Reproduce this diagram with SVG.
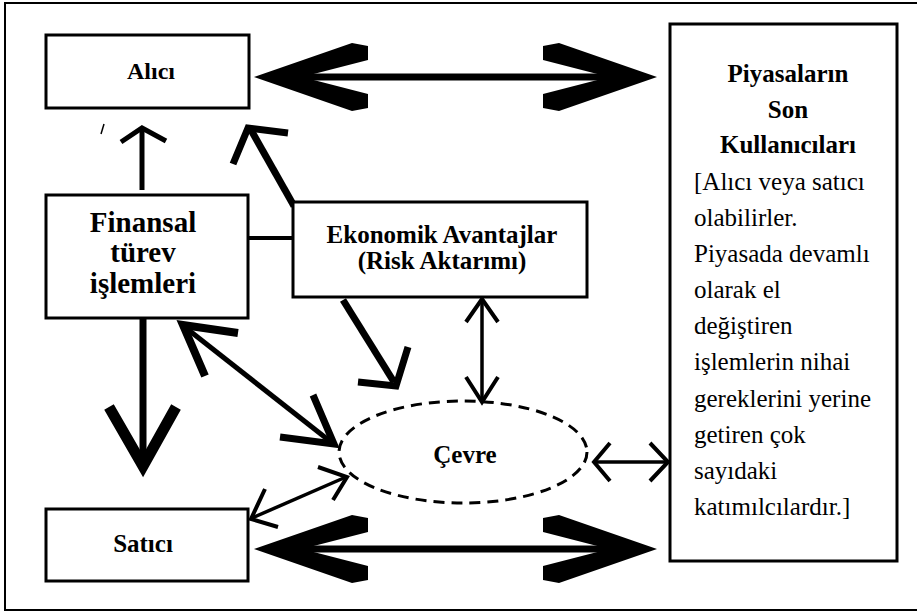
<svg xmlns="http://www.w3.org/2000/svg" xmlns:xlink="http://www.w3.org/1999/xlink" width="917" height="612" viewBox="0 0 917 612">
<style>
.box{fill:#fff;stroke:#000;stroke-width:3}
.t{font-family:"Liberation Serif","Times New Roman",serif;fill:#000}
.b{font-weight:bold}
.c{text-anchor:middle}
.ln{fill:none;stroke:#000;stroke-linecap:butt;stroke-linejoin:miter}
</style>
<defs>
<g id="bigdbl">
<line x1="295" y1="0" x2="616" y2="0" stroke="#000" stroke-width="7"/>
<polygon points="254,0 352,-34 368,-31 368,-17 302,0 368,17 368,31 352,34" fill="#000"/>
<polygon points="657,0 559,-34 543,-31 543,-17 609,0 543,17 543,31 559,34" fill="#000"/>
</g>
</defs>
<rect x="5" y="3" width="930" height="607" fill="#fff" stroke="#000" stroke-width="2"/>

<g id="connectors">
<use xlink:href="#bigdbl" transform="translate(0,77)"/>
<use xlink:href="#bigdbl" transform="translate(0,549)"/>
<!-- Finansal -> Alici -->
<path class="ln" d="M142,190 V130" stroke-width="5"/>
<path class="ln" d="M121,142 L142,128 L166,141" stroke-width="5"/>
<!-- Ekonomik -> Alici -->
<path class="ln" d="M294,206 L251,130" stroke-width="7"/>
<path class="ln" d="M233,164 L248,128 L288,133" stroke-width="7"/>
<!-- Finansal - Ekonomik -->
<path class="ln" d="M248,238 H293" stroke-width="4"/>
<!-- Finansal -> Satici -->
<path class="ln" d="M143,318 V462" stroke-width="7"/>
<path class="ln" d="M109,407 L143,466 L176,407" stroke-width="11"/>
<!-- Finansal <-> Cevre -->
<path class="ln" d="M186,328 L331,442" stroke-width="5"/>
<path class="ln" d="M238,333 L183,325 L205,376" stroke-width="8"/>
<path class="ln" d="M280,437 L334,444 L313,395" stroke-width="7"/>
<!-- Ekonomik -> Cevre -->
<path class="ln" d="M343,300 L394,382" stroke-width="7"/>
<path class="ln" d="M358,382 L396,386 L408,347" stroke-width="7"/>
<!-- Ekonomik <-> Cevre -->
<path class="ln" d="M482,300 V401" stroke-width="3.5"/>
<path class="ln" d="M466,322 L482,299 L498,322" stroke-width="4"/>
<path class="ln" d="M466,377 L482,402 L498,377" stroke-width="4"/>
<!-- Satici <-> Cevre -->
<path class="ln" d="M252,518 L346,477" stroke-width="3.5"/>
<path class="ln" d="M265,489 L251,519 L278,527" stroke-width="4"/>
<path class="ln" d="M318,467 L347,477 L333,500" stroke-width="4"/>
<!-- Cevre <-> Piyasa -->
<path class="ln" d="M594,462 H668" stroke-width="3.5"/>
<path class="ln" d="M610,443 L594,462 L610,481" stroke-width="4"/>
<path class="ln" d="M650,443 L668,462 L650,481" stroke-width="4"/>
<!-- stray mark -->
<path class="ln" d="M101,134 L104,124" stroke-width="1.5"/>
</g>

<g id="alici">
<rect class="box" x="46" y="35" width="203" height="73"/>
<text class="t b c" x="151" y="79" font-size="24">Alıcı</text>
</g>

<g id="finansal">
<rect class="box" x="46" y="195" width="202" height="123"/>
<text class="t b c" x="143" y="232" font-size="29">Finansal</text>
<text class="t b c" x="143" y="262" font-size="29">türev</text>
<text class="t b c" x="143" y="293" font-size="29">işlemleri</text>
</g>

<g id="ekonomik">
<rect class="box" x="293" y="202" width="294" height="95"/>
<text class="t b c" x="442" y="243" font-size="25">Ekonomik Avantajlar</text>
<text class="t b c" x="442" y="269" font-size="25">(Risk Aktarımı)</text>
</g>

<g id="cevre">
<ellipse cx="463" cy="452" rx="124" ry="51" fill="none" stroke="#000" stroke-width="3" stroke-dasharray="11,7"/>
<text class="t b c" x="465" y="463" font-size="25">Çevre</text>
</g>

<g id="satici">
<rect class="box" x="46" y="509" width="202" height="72"/>
<text class="t b c" x="143" y="552" font-size="25">Satıcı</text>
</g>

<g id="piyasa">
<rect class="box" x="670" y="24" width="227" height="537" stroke-width="4"/>
<text class="t b c" x="788" y="82" font-size="25">Piyasaların</text>
<text class="t b c" x="788" y="118" font-size="25">Son</text>
<text class="t b c" x="788" y="153" font-size="25">Kullanıcıları</text>
<text class="t" x="694" y="190" font-size="25">[Alıcı veya satıcı</text>
<text class="t" x="694" y="226" font-size="25">olabilirler.</text>
<text class="t" x="694" y="262" font-size="25">Piyasada devamlı</text>
<text class="t" x="694" y="298" font-size="25">olarak el</text>
<text class="t" x="694" y="334" font-size="25">değiştiren</text>
<text class="t" x="694" y="370" font-size="25">işlemlerin nihai</text>
<text class="t" x="694" y="407" font-size="25">gereklerini yerine</text>
<text class="t" x="694" y="443" font-size="25">getiren çok</text>
<text class="t" x="694" y="479" font-size="25">sayıdaki</text>
<text class="t" x="694" y="515" font-size="25">katımılcılardır.]</text>
</g>
</svg>
